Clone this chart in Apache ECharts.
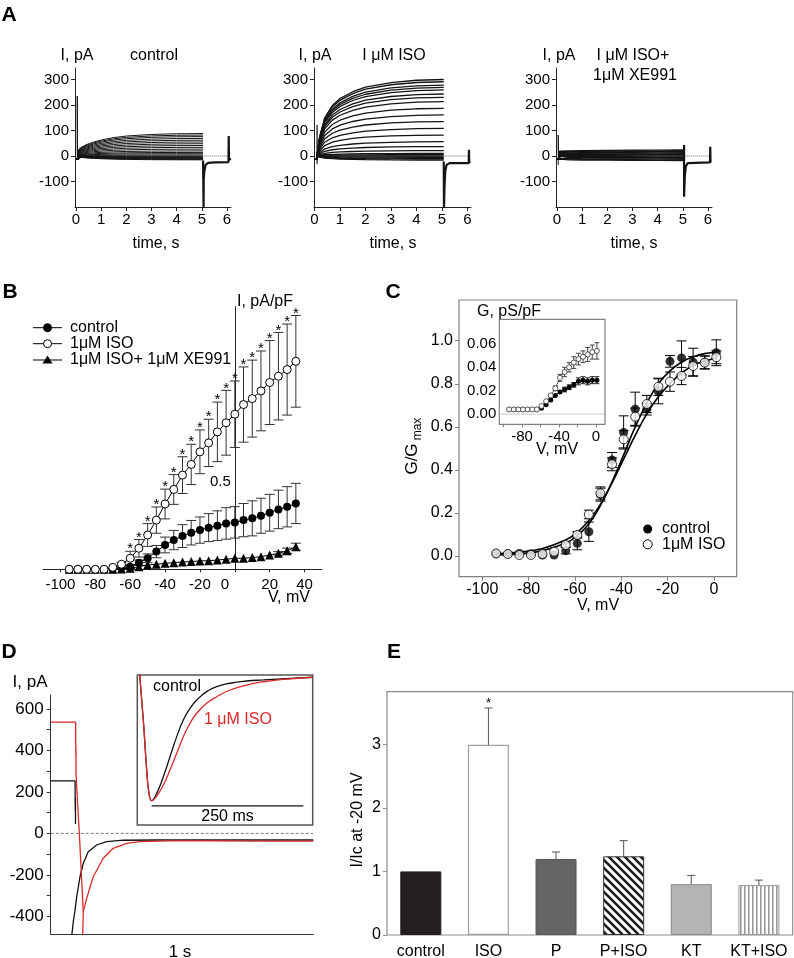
<!DOCTYPE html>
<html><head><meta charset="utf-8">
<script src="https://cdn.jsdelivr.net/npm/echarts@6/dist/echarts.min.js"></script>
<style>html,body{margin:0;padding:0;background:#fff}#c{width:794px;height:958px}</style>
</head><body><div id="c"></div><script>
// ================= DATA =================
// ---- Panel A: current families (time in s, current in pA) ----
const aTicksX = [0,1,2,3,4,5,6];
const aTicksY = [-100,0,100,200,300];
const aCtrlTime  = [0.1, 0.2, 0.4, 0.7, 1.0, 1.5, 2.0, 3.0, 4.0, 5.05];
const aCtrlShape = [0.28, 0.38, 0.5, 0.62, 0.71, 0.82, 0.89, 0.96, 0.99, 1.0];
const aCtrlAmp   = [-15,-13,-11,-9,-7,-5,-3,0,4,9,14,20,27,34,41,48,55,62,69,76,82,88];
const aCtrlHold  = -12;
const aCtrlSpike = [[0.05,-12],[0.05,235],[0.06,-14]];
const aCtrlTail  = [[5.05,-18],[5.07,-205],[5.075,-95],[5.1,-60],[5.15,-35],[5.25,-27],[5.5,-25],[6.06,-24],[6.07,78],[6.08,-14],[6.12,-10],[6.16,-12]];

const aIsoTime  = [0.1, 0.2, 0.4, 0.7, 1.0, 1.5, 2.0, 3.0, 4.0, 5.07];
const aIsoShape = [0.02, 0.25, 0.5, 0.66, 0.75, 0.84, 0.9, 0.96, 0.99, 1.0];
const aIsoAmp   = [-16,-12,-9,-5,0,5,10,21,37,56,82,108,135,161,187,213,230,243,259,269,278,291,300];
const aIsoHold  = -12;
const aIsoSpike = [[0.1,-30],[0.1,122],[0.105,-10]];
const aIsoTail  = [[5.07,-22],[5.08,-205],[5.1,-120],[5.13,-60],[5.18,-35],[5.3,-28],[6.05,-28],[6.06,24],[6.07,-25],[6.12,-22]];

const aXeTime  = [0.1, 0.5, 1.0, 2.0, 3.0, 4.0, 5.05];
const aXeShape = [0.8, 0.85, 0.88, 0.92, 0.95, 0.98, 1.0];
const aXeAmp   = [-18,-15,-12,-9,-6,-3,0,3,6,9,12,15,18,21,24];
const aXeHold  = -12;
const aXeSpike = [[0.05,-35],[0.05,82],[0.06,-10]];
const aXeTail  = [[5.05,43],[5.05,-160],[5.08,-80],[5.12,-40],[5.2,-28],[6.08,-25],[6.09,36],[6.1,-22],[6.14,-20]];
const aZeroLine = [[5.1,0],[6.1,0]];

// ---- Panel B: I-V (mV, pA/pF) ----
const bV      = [-95,-90,-85,-80,-75,-70,-65,-60,-55,-50,-45,-40,-35,-30,-25,-20,-15,-10,-5,0,5,10,15,20,25,30,35];
const bCtrl   = [0,0,0,0,0,0.005,0.01,0.015,0.038,0.063,0.101,0.139,0.167,0.19,0.209,0.224,0.238,0.249,0.262,0.268,0.281,0.291,0.306,0.323,0.342,0.357,0.376];
const bCtrlErr= [0,0,0,0,0,0,0,0.01,0.015,0.025,0.035,0.045,0.055,0.065,0.07,0.075,0.08,0.085,0.09,0.09,0.095,0.1,0.1,0.105,0.11,0.115,0.115];
const bIso    = [0,0,0,0,0,0.011,0.029,0.063,0.12,0.196,0.281,0.373,0.456,0.538,0.599,0.671,0.722,0.785,0.837,0.886,0.941,0.975,1.019,1.067,1.103,1.141,1.188];
const bIsoErr = [0,0,0,0,0,0,0.01,0.04,0.05,0.065,0.075,0.085,0.085,0.105,0.115,0.125,0.135,0.17,0.185,0.19,0.215,0.22,0.228,0.24,0.25,0.26,0.262];
const bXe     = [0,0,0,0,0,0,0.002,0.006,0.015,0.025,0.029,0.034,0.038,0.042,0.044,0.048,0.049,0.053,0.057,0.063,0.063,0.067,0.072,0.082,0.091,0.106,0.129];
const bXeErr  = [0,0,0,0,0,0,0,0,0,0,0,0,0,0,0,0,0,0,0,0,0,0,0,0,0.01,0.015,0.02];
const bSig    = [0,0,0,0,0,0,0,1,1,1,1,1,1,1,1,1,1,1,1,1,1,1,1,1,1,1,1];
const bTicksX = [-100,-80,-60,-40,-20,0,20,40];
const bLabelY = 0.5;

// ---- Panel C: normalised conductance ----
const cV       = [-94,-89,-84,-79,-74,-69,-64,-59,-54,-49,-44,-39,-34,-29,-24,-19,-14,-9,-4,1];
const cCtrl    = [0.01,0.01,0.012,0.01,0.005,0.005,0.025,0.059,0.113,0.285,0.446,0.574,0.682,0.682,0.765,0.904,0.92,0.9,0.9,0.944];
const cCtrlErr = [0,0,0,0,0,0,0.015,0.03,0.045,0.03,0.035,0.077,0.079,0.027,0.058,0.027,0.079,0.065,0.03,0.06];
const cIso     = [0.012,0.009,0.005,0.005,0.009,0.02,0.051,0.098,0.193,0.291,0.426,0.542,0.647,0.706,0.786,0.81,0.836,0.882,0.898,0.923];
const cIsoErr  = [0,0,0,0,0,0,0.01,0.015,0.02,0.03,0.03,0.04,0.04,0.04,0.04,0.045,0.04,0.045,0.03,0.03];
const cFitV    = [-94,-84,-74,-64,-59,-54,-49,-44,-39,-34,-29,-24,-19,-14,-9,-4,1];
const cFitCtrl = [0.005,0.01,0.025,0.06,0.095,0.15,0.235,0.345,0.47,0.6,0.71,0.8,0.86,0.9,0.925,0.94,0.945];
const cFitIso  = [0.01,0.018,0.035,0.075,0.11,0.165,0.24,0.34,0.45,0.56,0.66,0.74,0.8,0.85,0.885,0.905,0.92];
const cTicksX  = [-100,-80,-60,-40,-20,0];
const cTicksY  = [0,0.2,0.4,0.6,0.8,1.0];
// inset (pS/pF)
const ciCtrl    = [0.004,0.004,0.004,0.004,0.004,0.004,0.004,0.005,0.008,0.012,0.016,0.019,0.021,0.023,0.025,0.028,0.029,0.028,0.029,0.029];
const ciCtrlErr = [0,0,0,0,0,0,0,0,0,0,0,0,0.002,0.002,0.002,0.003,0.003,0.003,0.003,0.003];
const ciIso     = [0.004,0.004,0.004,0.004,0.004,0.004,0.004,0.007,0.011,0.016,0.022,0.031,0.036,0.040,0.044,0.047,0.049,0.051,0.053,0.054];
const ciIsoErr  = [0,0,0,0,0,0,0,0,0,0,0.002,0.003,0.004,0.004,0.005,0.005,0.005,0.006,0.006,0.007];
const ciTicksX  = [-100,-80,-60,-40,-20,0];
const ciLabelsX = [-80,-40,0];
const ciTicksY  = [0,0.02,0.04,0.06];

// ---- Panel D: tail currents (s, pA) ----
const dTicksY   = [-400,-300,-200,-100,0,100,200,300,400,500,600];
const dLabelsY  = [-400,-200,0,200,400,600];
const dCtrlStep = [[0,253],[0.093,253],[0.0932,170],[0.0936,110],[0.094,170],[0.0945,45]];
const dCtrlTail = [[0.078,-520],[0.08,-496],[0.086,-426],[0.0926,-370],[0.099,-306],[0.1116,-209],[0.124,-145],[0.143,-89],[0.175,-56],[0.213,-40],[0.277,-33],[0.4,-32],[0.6,-32],[0.8,-32],[1,-32]];
const dIsoStep  = [[0,536],[0.095,536],[0.0955,380],[0.096,420],[0.0965,281],[0.109,0],[0.124,-378]];
const dIsoTail  = [[0.1205,-560],[0.124,-378],[0.137,-313],[0.162,-209],[0.2,-120],[0.238,-72],[0.289,-48],[0.34,-40],[0.45,-36],[0.6,-36],[0.8,-37],[1,-37]];
const dZero     = [[0,0],[1,0]];
// inset (ms, normalised)
const diCtrl = [[2,1.1],[9.9,0.7],[15.5,0.367],[19.3,0.211],[23.7,0.162],[32,0.211],[42.9,0.322],[53.9,0.455],[65,0.589],[75.9,0.7],[86.9,0.778],[98,0.833],[114.4,0.889],[130.9,0.922],[152.9,0.945],[180.4,0.96],[207.8,0.967],[289.2,0.985]];
const diIso  = [[2,1.1],[9.9,0.7],[15.5,0.367],[19.3,0.211],[23.7,0.162],[32,0.193],[42.9,0.267],[53.9,0.367],[65,0.478],[75.9,0.589],[86.9,0.678],[98,0.745],[114.4,0.811],[130.9,0.855],[152.9,0.9],[180.4,0.933],[207.8,0.955],[240.8,0.971],[289.2,0.985]];
const diScaleBar = [[23.7,0.127],[273.7,0.127]];

// ---- Panel E: I/Ic at -20 mV ----
const eCats = ['control','ISO','P','P+ISO','KT','KT+ISO'];
const eVals = [1.0, 2.99, 1.195, 1.237, 0.8, 0.784];
const eErr  = [0, 0.58, 0.11, 0.247, 0.137, 0.079];
const eSig  = [0, 1, 0, 0, 0, 0];
const eTicksY = [0,1,2,3];

// ================= RENDERING =================
const FONT = '"Liberation Sans", Arial, Helvetica, sans-serif';
const chart = echarts.init(document.getElementById('c'), null, {width: 794, height: 958});

function mkPattern(kind) {
  const c = document.createElement('canvas');
  const g = c.getContext('2d');
  if (kind === 'diag') {
    c.width = 8; c.height = 8;
    g.fillStyle = '#fff'; g.fillRect(0,0,8,8);
    g.strokeStyle = '#1e1e1e'; g.lineWidth = 2.6;
    g.beginPath();
    g.moveTo(-2,-2); g.lineTo(10,10);
    g.moveTo(-2,6); g.lineTo(2,10);
    g.moveTo(6,-2); g.lineTo(10,2);
    g.stroke();
  } else {
    c.width = 4; c.height = 4;
    g.fillStyle = '#fff'; g.fillRect(0,0,4,4);
    g.fillStyle = '#9a9a9a'; g.fillRect(0,0,1.6,4);
  }
  return c;
}

const grids = [
  {left:75, top:68, width:156, height:139},            // 0 A1
  {left:314, top:68, width:157, height:139},           // 1 A2
  {left:556, top:68, width:156, height:139},           // 2 A3
  {left:43, top:306.7, width:279, height:262.6},       // 3 B
  {left:459, top:300, width:277.7, height:276.7, show:true, borderColor:'#808080', borderWidth:1.2, backgroundColor:'rgba(0,0,0,0)'}, // 4 C
  {left:499.3, top:319.3, width:105.7, height:105, show:true, borderColor:'#808080', borderWidth:1.2, backgroundColor:'#fff', z:5}, // 5 C inset
  {left:50.7, top:695, width:262.6, height:239},       // 6 D
  {left:137.3, top:675, width:175.4, height:150, show:true, borderColor:'#555', borderWidth:1.5, backgroundColor:'#fff'}, // 7 D inset
  {left:387, top:691.7, width:405.7, height:243.3, show:true, borderColor:'#8c8c8c', borderWidth:1.2, backgroundColor:'rgba(0,0,0,0)'} // 8 E
].map(g => Object.assign({outerBoundsMode:'none', containLabel:false}, g));

function vax(o) {
  return {
    type: o.type || 'value', gridIndex: o.gi, min: o.min, max: o.max, position: o.position,
    data: o.data, boundaryGap: o.type === 'category' ? true : undefined,
    splitLine: {show:false},
    axisLine: {show: o.line !== false, onZero: !!o.onZero, lineStyle: {color: o.color || '#000', width: o.lw || 1}},
    axisTick: {show: !!o.ticks, inside: false, length: o.tickLen || 4, lineStyle: {color: o.color || '#000', width: 1}, customValues: o.ticks},
    axisLabel: {show: o.labels !== false, customValues: o.labels || undefined, margin: o.margin == null ? 6 : o.margin,
      interval: 0, color: '#000', fontSize: o.fs || 15, fontFamily: FONT, formatter: o.fmt, hideOverlap: false},
    z: o.z
  };
}

const xAxis = [
  vax({gi:0, min:-0.04, max:6.16, ticks:aTicksX, labels:aTicksX, margin:5, fs:15, color:'#222'}),
  vax({gi:1, min:-0.02, max:6.14, ticks:aTicksX, labels:aTicksX, margin:5, fs:15, color:'#222'}),
  vax({gi:2, min:-0.04, max:6.16, ticks:aTicksX, labels:aTicksX, margin:5, fs:15, color:'#222'}),
  vax({gi:3, min:-110, max:50, ticks:bTicksX, labels:bTicksX.filter(v => v !== 0), margin:8, fs:15, color:'#222', tickLen:3}),
  vax({gi:4, min:-110.05, max:9.8, ticks:cTicksX, labels:cTicksX, margin:5, fs:16, line:false, color:'#808080'}),
  vax({gi:5, min:-104.7, max:9.8, ticks:ciTicksX, labels:ciLabelsX, margin:5, fs:15, line:false, color:'#808080', tickLen:3}),
  vax({gi:6, min:0, max:1, labels:false, color:'#333'}),
  vax({gi:7, min:0, max:289.2, labels:false, line:false}),
  vax({gi:8, type:'category', data:eCats, labels:undefined, margin:9, fs:16, line:false})
];
const yAxis = [
  vax({gi:0, min:-200, max:345, ticks:aTicksY, labels:aTicksY, margin:6, fs:15, color:'#222'}),
  vax({gi:1, min:-200, max:345, ticks:aTicksY, labels:aTicksY, margin:6, fs:15, color:'#222'}),
  vax({gi:2, min:-200, max:345, ticks:aTicksY, labels:aTicksY, margin:6, fs:15, color:'#222'}),
  vax({gi:3, min:0, max:1.5, onZero:true, labels:false, color:'#222'}),
  vax({gi:4, min:-0.096, max:1.189, ticks:cTicksY, labels:cTicksY, margin:6, fs:16, line:false, color:'#808080', fmt: v => v.toFixed(1)}),
  vax({gi:5, min:-0.0087, max:0.081, labels:ciTicksY, margin:3, fs:15, line:false, fmt: v => v.toFixed(2)}),
  vax({gi:6, min:-485, max:667, ticks:dTicksY, labels:dLabelsY, margin:7, fs:17, color:'#333'}),
  vax({gi:7, min:0, max:1, labels:false, line:false}),
  vax({gi:8, min:0, max:3.826, ticks:eTicksY, labels:eTicksY, margin:6, fs:16, line:false, color:'#8c8c8c'})
];

const series = [];
function line(gi, data, color, width, extra) {
  series.push(Object.assign({type:'line', xAxisIndex:gi, yAxisIndex:gi, data, symbol:'none', silent:true,
    lineStyle:{color, width}, z:2}, extra || {}));
}
function family(gi, amps, times, shape, hold, width) {
  amps.forEach(a => {
    const pts = [[0, hold], [times[0], hold]].concat(times.map((t, i) => [t, a * shape[i]]));
    line(gi, pts, '#141414', width);
  });
}
function errBar(gi, data, cap, color, mode, z) {
  series.push({type:'custom', xAxisIndex:gi, yAxisIndex:gi, data, z: z || 3, silent:true, clip:false,
    renderItem(params, api) {
      const x = api.value(0), y = api.value(1), e = api.value(2);
      if (!(e > 0)) return null;
      const t = api.coord([x, y + e]);
      const b = api.coord([x, mode === 'up' ? y : y - e]);
      const st = {stroke: color, lineWidth: 1, fill: null};
      const ch = [
        {type:'line', shape:{x1:t[0], y1:t[1], x2:b[0], y2:b[1]}, style:st},
        {type:'line', shape:{x1:t[0]-cap, y1:t[1], x2:t[0]+cap, y2:t[1]}, style:st}
      ];
      if (mode !== 'up') ch.push({type:'line', shape:{x1:b[0]-cap, y1:b[1], x2:b[0]+cap, y2:b[1]}, style:st});
      return {type:'group', children: ch};
    }});
}
function stars(gi, data, dy, size, z) {
  series.push({type:'custom', xAxisIndex:gi, yAxisIndex:gi, data, z: z || 6, silent:true, clip:false,
    renderItem(params, api) {
      if (!api.value(2)) return null;
      const p = api.coord([api.value(0), api.value(1)]);
      return {type:'text', style:{text:'*', x:p[0], y:p[1] + dy, align:'center', verticalAlign:'middle',
        textAlign:'center', textVerticalAlign:'middle', font: size + 'px ' + FONT, fill:'#000'}};
    }});
}
// label placed at a data value on the B y-axis (axis sits at V = 0)
function axisValueLabel(gi, data, dx) {
  series.push({type:'custom', xAxisIndex:gi, yAxisIndex:gi, data, z: 6, silent:true, clip:false,
    renderItem(params, api) {
      const p = api.coord([api.value(0), api.value(1)]);
      return {type:'text', style:{text: String(api.value(1)), x:p[0] + dx, y:p[1], align:'right', verticalAlign:'middle',
        textAlign:'right', textVerticalAlign:'middle', font: '15px ' + FONT, fill:'#000'}};
    }});
}

// ---- A ----
family(0, aCtrlAmp, aCtrlTime, aCtrlShape, aCtrlHold, 1);
line(0, aCtrlSpike, '#141414', 1);
line(0, aCtrlTail, '#141414', 2.2);
line(0, aZeroLine, '#666', 1, {lineStyle:{color:'#666', width:1, type:'dotted'}, z:1});
family(1, aIsoAmp, aIsoTime, aIsoShape, aIsoHold, 1.3);
line(1, aIsoSpike, '#141414', 1.2);
line(1, aIsoTail, '#141414', 2.2);
line(1, aZeroLine, '#666', 1, {lineStyle:{color:'#666', width:1, type:'dotted'}, z:1});
family(2, aXeAmp, aXeTime, aXeShape, aXeHold, 1.2);
line(2, aXeSpike, '#141414', 1);
line(2, aXeTail, '#141414', 2.2);
line(2, aZeroLine, '#666', 1, {lineStyle:{color:'#666', width:1, type:'dotted'}, z:1});

// ---- B ----
errBar(3, bV.map((v,i)=>[v, bIso[i], bIsoErr[i]]), 5, '#333', 'both', 3);
errBar(3, bV.map((v,i)=>[v, bCtrl[i], bCtrlErr[i]]), 5, '#333', 'both', 3);
errBar(3, bV.map((v,i)=>[v, bXe[i], bXeErr[i]]), 5, '#333', 'both', 3);
series.push({type:'line', name:'control', xAxisIndex:3, yAxisIndex:3, data:bV.map((v,i)=>[v,bCtrl[i]]), symbol:'circle', symbolSize:8,
  itemStyle:{color:'#000'}, lineStyle:{color:'#000', width:1}, z:4, silent:true});
series.push({type:'line', name:'1μM ISO+ 1μM XE991', xAxisIndex:3, yAxisIndex:3, data:bV.map((v,i)=>[v,bXe[i]]), symbol:'triangle', symbolSize:9,
  itemStyle:{color:'#000'}, lineStyle:{color:'#000', width:1}, z:4, silent:true});
series.push({type:'line', name:'1μM ISO', xAxisIndex:3, yAxisIndex:3, data:bV.map((v,i)=>[v,bIso[i]]), symbol:'circle', symbolSize:8,
  itemStyle:{color:'#fff', borderColor:'#000', borderWidth:1}, lineStyle:{color:'#000', width:1}, z:5, silent:true});
stars(3, bV.map((v,i)=>[v, bIso[i] + bIsoErr[i], bSig[i]]), -2, 15);
axisValueLabel(3, [[0, bLabelY]], -4);

// ---- C ----
line(4, cFitV.map((v,i)=>[v, cFitIso[i]]), '#000', 1.6, {smooth:true});
line(4, cFitV.map((v,i)=>[v, cFitCtrl[i]]), '#000', 1.6, {smooth:true});
errBar(4, cV.map((v,i)=>[v, cCtrl[i], cCtrlErr[i]]), 5, '#000', 'both', 3);
errBar(4, cV.map((v,i)=>[v, cIso[i], cIsoErr[i]]), 5, '#000', 'both', 3);
series.push({type:'scatter', xAxisIndex:4, yAxisIndex:4, data:cV.map((v,i)=>[v,cCtrl[i]]), symbol:'circle', symbolSize:9,
  itemStyle:{color:'#000'}, z:4, silent:true});
series.push({type:'scatter', xAxisIndex:4, yAxisIndex:4, data:cV.map((v,i)=>[v,cIso[i]]), symbol:'circle', symbolSize:9,
  itemStyle:{color:'#fff', borderColor:'#000', borderWidth:1}, z:5, silent:true});
// inset
line(5, [[-104.7,0],[9.8,0]], '#999', 1, {lineStyle:{color:'#999', width:1, type:'dotted'}, z:6});
errBar(5, cV.map((v,i)=>[v, ciIso[i], ciIsoErr[i]]), 2.5, '#444', 'both', 7);
errBar(5, cV.map((v,i)=>[v, ciCtrl[i], ciCtrlErr[i]]), 2.5, '#222', 'both', 7);
series.push({type:'line', xAxisIndex:5, yAxisIndex:5, data:cV.map((v,i)=>[v,ciCtrl[i]]), symbol:'circle', symbolSize:5,
  itemStyle:{color:'#000'}, lineStyle:{color:'#000', width:1}, z:8, silent:true});
series.push({type:'line', xAxisIndex:5, yAxisIndex:5, data:cV.map((v,i)=>[v,ciIso[i]]), symbol:'circle', symbolSize:5,
  itemStyle:{color:'#fff', borderColor:'#333', borderWidth:0.8}, lineStyle:{color:'#333', width:0.8}, z:9, silent:true});

// ---- D ----
line(6, dZero, '#555', 0.8, {lineStyle:{color:'#555', width:0.8, type:[3,2]}, z:1});
line(6, dCtrlStep, '#111', 1.3);
line(6, dCtrlTail, '#111', 1.3);
line(6, dIsoStep, '#dc2a2a', 1.3, {z:3});
line(6, dIsoTail, '#dc2a2a', 1.3, {z:3});
// inset
line(7, diCtrl, '#111', 1.3, {smooth:true, z:4});
line(7, diIso, '#dc2a2a', 1.3, {smooth:true, z:4});
line(7, diScaleBar, '#111', 1.3, {z:4});

// ---- E ----
const eStyles = [
  {color:'#231f20', borderColor:'#231f20', borderWidth:1},
  {color:'#fff', borderColor:'#a0a0a0', borderWidth:1.2},
  {color:'#656567', borderColor:'#555', borderWidth:1},
  {color:{image: mkPattern('diag'), repeat:'repeat'}, borderColor:'#333', borderWidth:1},
  {color:'#b4b4b6', borderColor:'#888', borderWidth:1},
  {color:{image: mkPattern('vert'), repeat:'repeat'}, borderColor:'#999', borderWidth:1}
];
series.push({type:'bar', xAxisIndex:8, yAxisIndex:8, barWidth:41, silent:true, z:2,
  data: eVals.map((v,i)=>({value:v, itemStyle:eStyles[i]}))});
errBar(8, eVals.map((v,i)=>[i, v, eErr[i]]), 4, '#555', 'up', 3);
stars(8, eVals.map((v,i)=>[i, v + eErr[i], eSig[i]]), -5, 13);

// ---- text & legends ----
function txt(x, y, text, o) {
  o = o || {};
  return {type:'text', x, y, rotation: o.rot || 0, z: 100,
    style:{text, x:0, y:0, font: (o.bold ? 'bold ' : '') + (o.size || 16) + 'px ' + FONT, fill: o.color || '#000',
      align: o.align || 'center', verticalAlign: o.va || 'middle', textAlign: o.align || 'center', textVerticalAlign: o.va || 'middle'}};
}
const G = [];
// panel letters
[['A',9,15],['B',10,292],['C',393,292],['D',9,652],['E',394,652]].forEach(p => G.push(txt(p[1], p[2], p[0], {bold:true, size:21})));
// A
G.push(txt(77,56,'I, pA'), txt(154,56,'control'), txt(156,244,'time, s'));
G.push(txt(315,56,'I, pA'), txt(394,56,'I μM ISO'), txt(393,244,'time, s'));
G.push(txt(559,56,'I, pA'), txt(633,56,'I μM ISO+'), txt(635,76,'1μM XE991'), txt(634,244,'time, s'));
// B
G.push(txt(237,302,'I, pA/pF', {align:'left'}), txt(310,598,'V, mV', {align:'right'}), txt(225,585,'0', {size:15}));
const legB = [[327.7,'control','fill'],[343.7,'1μM ISO','open'],[360,'1μM ISO+ 1μM XE991','tri']];
legB.forEach(l => {
  G.push({type:'line', shape:{x1:33, y1:l[0], x2:62, y2:l[0]}, style:{stroke:'#000', lineWidth:1}, z:100});
  if (l[2] === 'tri') G.push({type:'polygon', shape:{points:[[47.5,l[0]-4.5],[52.5,l[0]+3.5],[42.5,l[0]+3.5]]}, style:{fill:'#000'}, z:101});
  else G.push({type:'circle', shape:{cx:47.5, cy:l[0], r:4}, style:{fill: l[2]==='fill' ? '#000' : '#fff', stroke:'#000', lineWidth:1}, z:101});
  G.push(txt(70, l[0], l[1], {align:'left'}));
});
// C
G.push(txt(598,606,'V, mV'));
G.push(txt(412,459,'G/G', {rot:Math.PI/2, size:17}), txt(418,429,'max', {rot:Math.PI/2, size:12}));
G.push({type:'circle', shape:{cx:647.7, cy:529, r:4.5}, style:{fill:'#000'}, z:100});
G.push({type:'circle', shape:{cx:647.7, cy:544.3, r:4.5}, style:{fill:'#fff', stroke:'#000', lineWidth:1}, z:100});
G.push(txt(662,529,'control', {align:'left'}), txt(662,544.3,'1μM ISO', {align:'left'}));
G.push(txt(477,311.7,'G, pS/pF', {align:'left'}), txt(557,450,'V, mV'));
// D
G.push(txt(30,682,'I, pA', {size:17}), txt(180,952,'1 s', {size:17}));
G.push(txt(153,687,'control', {align:'left'}), txt(204,720,'1 μM ISO', {align:'left', color:'#dc2a2a'}), txt(227.5,816.5,'250 ms'));
// E
G.push(txt(358,820,'I/Ic at -20 mV', {rot:Math.PI/2}));

chart.setOption({
  animation: false,
  backgroundColor: '#fff',
  textStyle: {fontFamily: FONT},
  grid: grids, xAxis, yAxis, series,
  graphic: {elements: G}
});
</script></body></html>
